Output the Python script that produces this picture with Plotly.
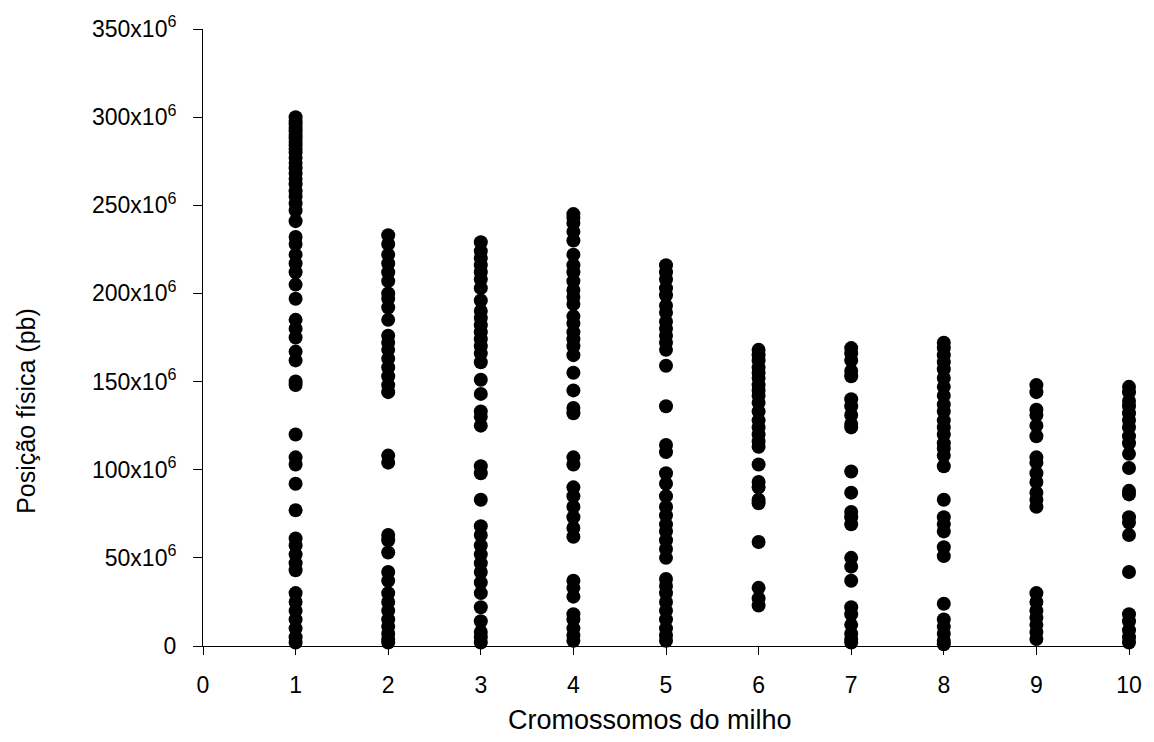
import plotly.graph_objects as go

# Physical positions (in millions of bp) per maize chromosome
chr1 = [300, 298, 296, 294, 292, 290, 288, 286, 284, 282, 280, 277, 274, 271, 268, 265, 262, 258, 255, 251, 247,
        241, 232, 228, 222, 217, 212, 205, 197, 185, 180, 175, 167, 162, 150, 148, 120, 107, 103, 92, 77,
        61, 57, 52, 47, 43, 30, 25, 20, 15, 10, 5, 2]
chr2 = [233, 228, 222, 217, 212, 207, 200, 197, 192, 185, 176, 172, 168, 163, 158, 153, 148, 144,
        108, 104, 63, 60, 53, 42, 37, 30, 25, 20, 15, 11, 7, 4, 2]
chr3 = [229, 224, 220, 216, 212, 208, 203, 196, 190, 186, 182, 178, 174, 170, 166, 161, 151, 143, 133, 130, 125,
        102, 98, 83, 68, 63, 57, 52, 47, 42, 36, 30, 22, 14, 8, 5, 2]
chr4 = [245, 243, 240, 235, 230, 222, 216, 212, 207, 202, 198, 194, 187, 183, 178, 174, 170, 165, 155, 145,
        135, 132, 107, 103, 90, 85, 79, 73, 67, 62, 37, 33, 28, 18, 15, 10, 6, 3]
chr5 = [216, 212, 208, 203, 199, 193, 189, 184, 180, 176, 172, 168, 159, 136, 114, 110, 98, 92, 85, 79, 74,
        69, 65, 60, 55, 50, 38, 34, 30, 25, 20, 15, 10, 6, 3]
chr6 = [168, 165, 162, 158, 155, 152, 148, 145, 142, 138, 133, 128, 124, 120, 116, 113, 103, 93, 90, 83, 81,
        59, 33, 27, 23]
chr7 = [169, 166, 162, 156, 153, 140, 136, 131, 126, 124, 99, 87, 76, 73, 69, 50, 45, 37, 22, 18, 12, 7, 4, 2]
chr8 = [172, 169, 165, 161, 157, 152, 147, 142, 137, 133, 128, 124, 120, 115, 112, 108, 102, 83, 73, 69, 65,
        56, 51, 24, 15, 11, 7, 3, 1]
chr9 = [148, 144, 134, 131, 125, 119, 107, 104, 98, 93, 87, 83, 79, 30, 25, 20, 16, 12, 8, 4]
chr10 = [147, 144, 139, 136, 132, 128, 124, 119, 115, 109, 101, 88, 86, 73, 70, 63, 42, 18, 14, 9, 5, 2]

chromosomes = [chr1, chr2, chr3, chr4, chr5, chr6, chr7, chr8, chr9, chr10]

y_tickvals = [0, 50e6, 100e6, 150e6, 200e6, 250e6, 300e6, 350e6]
y_ticktext = ["0", "50x10<sup>6</sup>", "100x10<sup>6</sup>", "150x10<sup>6</sup>", "200x10<sup>6</sup>",
              "250x10<sup>6</sup>", "300x10<sup>6</sup>", "350x10<sup>6</sup>"]
x_tickvals = list(range(0, 11))

xs, ys = [], []
for i, vals in enumerate(chromosomes, start=1):
    for v in vals:
        xs.append(i)
        ys.append(v * 1e6)

fig = go.Figure(go.Scatter(
    x=xs, y=ys, mode="markers",
    marker=dict(color="black", size=14, line=dict(width=0)),
    cliponaxis=False, showlegend=False,
))

font_family = "Liberation Sans, Arial, sans-serif"
L, R, T, B = 203, 14, 27, 96
W, H = 1154, 742
pw, ph = W - L - R, H - T - B

fig.update_layout(
    width=W, height=H,
    margin=dict(l=L, r=R, t=T, b=B),
    paper_bgcolor="white", plot_bgcolor="white",
    font=dict(family=font_family, color="black", size=23),
    xaxis=dict(
        range=[0, 10], tickvals=x_tickvals, ticks="outside", ticklen=8, tickcolor="black",
        showline=True, linecolor="black", linewidth=1, showgrid=False, zeroline=False,
        tickfont=dict(size=23), ticklabelstandoff=10,
    ),
    yaxis=dict(
        range=[0, 350e6], tickvals=y_tickvals, ticktext=y_ticktext, ticks="outside", ticklen=9,
        tickcolor="black", showline=True, linecolor="black", linewidth=1, showgrid=False,
        zeroline=False, tickfont=dict(size=23), ticklabelstandoff=12,
    ),
    annotations=[
        dict(text="Cromossomos do milho", xref="paper", yref="paper",
             x=(655 - L) / pw, y=-(720 - (H - B)) / ph, xanchor="center", yanchor="middle",
             showarrow=False, font=dict(size=27)),
        dict(text="Posição física (pb)", xref="paper", yref="paper",
             x=(24 - L) / pw, y=((H - B) - 410) / ph, xanchor="center", yanchor="middle",
             textangle=-90, showarrow=False, font=dict(size=25)),
    ],
)

fig.write_html("out.html")
